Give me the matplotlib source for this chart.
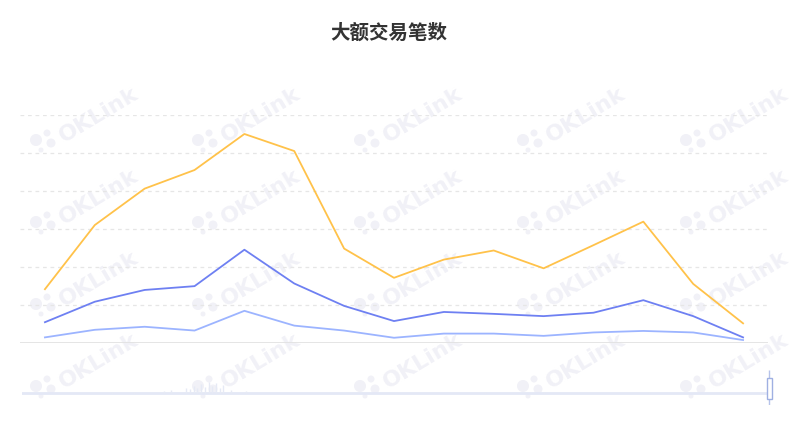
import matplotlib
matplotlib.use("Agg")
import matplotlib.pyplot as plt
from matplotlib.patches import Circle, Rectangle

plt.rcParams['font.family'] = ['Noto Sans CJK SC', 'DejaVu Sans']

title = "大额交易笔数"
# 15 visible days, values in units where one grid step = 100
orange = [141, 310, 406, 455, 550, 505, 248, 171, 219, 243, 196, 257, 319, 155, 51]
blue = [54, 108, 139, 149, 245, 156, 97, 57, 81, 76, 70, 79, 112, 70, 14]
light = [14, 34, 42, 32, 84, 45, 32, 13, 24, 24, 18, 27, 31, 27, 7]
colors = ['#FFC24A', '#6E80F2', '#9CB4FF']

# overview strip of the slider (fraction along the slider, height in px)
over_pos = [0.12, 0.15, 0.19, 0.20, 0.22, 0.225, 0.23, 0.235, 0.24, 0.245, 0.25, 0.255, 0.26, 0.265, 0.27, 0.28, 0.30, 0.62, 0.70, 0.84]
over_h = [1, 1, 2, 3, 5, 4, 7, 5, 9, 6, 11, 7, 10, 5, 8, 3, 2, 1, 1, 1]

W, H = 800, 421
fig = plt.figure(figsize=(W / 100, H / 100), dpi=100)

def fx(px):
    return px / W

def fy(py):
    return 1 - py / H

# watermark on a pixel-space background axes
bg = fig.add_axes([0, 0, 1, 1], zorder=0)
bg.set_xlim(0, W)
bg.set_ylim(H, 0)
bg.axis('off')
wm = '#f1f1f7'
for row in [140, 222, 304, 386]:
    for col in [36, 198, 360, 523, 686]:
        for dx, dy, r in [(0, 0, 6), (11, -7, 3.5), (15, 3, 4.5), (5, 10, 2.5)]:
            bg.add_patch(Circle((col + dx, row + dy), r, color=wm, lw=0))
        bg.text(col + 63, row - 25, "OKLink", rotation=31, fontsize=16,
                fontweight='bold', color=wm, ha='center', va='center',
                family=['DejaVu Sans'])

ax = fig.add_axes([fx(20), fy(342.7), fx(768) - fx(20), fy(115) - fy(342.7)], zorder=1)
ax.patch.set_alpha(0)
x = list(range(len(orange)))
for series, c in zip([orange, blue, light], colors):
    ax.plot(x, series, color=c, lw=1.3, zorder=3)
ax.set_xlim(-0.5, len(orange) - 0.5)
ax.set_ylim(0, 600)
for yv in [100, 200, 300, 400, 500, 600]:
    ax.axhline(yv, color='#e6e6e6', lw=0.9, ls=(0, (3, 3)), zorder=1)
ax.axhline(0, color='#e2e2e2', lw=2, zorder=2)
ax.set_xticks([])
ax.set_yticks([])
for s in ax.spines.values():
    s.set_visible(False)

fig.text(fx(389), fy(33), title, ha='center', va='center', fontsize=14,
         fontweight='bold', color='#333333')

# data zoom slider
sl = fig.add_axes([fx(22), fy(400), fx(768) - fx(22), fy(375) - fy(400)], zorder=1)
sl.set_xlim(0, 1)
sl.set_ylim(0, 25)
sl.axis('off')
sl.axhline(7, color='#e4e8f6', lw=2)
sl.vlines(over_pos, 7, [7 + h for h in over_h], color='#e6eaf5', lw=1)
hx = fig.add_axes([fx(764), fy(405), fx(774) - fx(764), fy(370) - fy(405)], zorder=2)
hx.set_xlim(0, 10)
hx.set_ylim(0, 35)
hx.axis('off')
hx.vlines(5, 0, 35, color='#b6c3ea', lw=1)
hx.add_patch(Rectangle((2.5, 6), 5, 21, facecolor='white', edgecolor='#9fb0e2', lw=1, zorder=3))

fig.savefig('out.png', dpi=100, facecolor='white')
